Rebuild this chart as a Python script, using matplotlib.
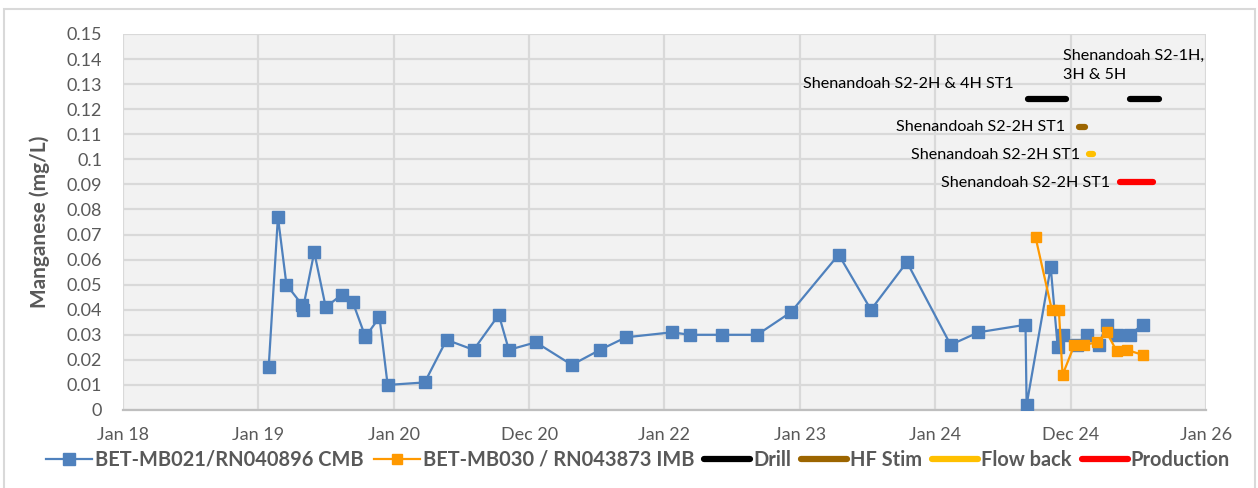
import matplotlib
matplotlib.use("Agg")
import matplotlib.pyplot as plt
import matplotlib.dates as mdates
from matplotlib.lines import Line2D
from matplotlib.patches import Rectangle
import numpy as np

plt.rcParams['font.family'] = ['Lato', 'DejaVu Sans']

# --- data -------------------------------------------------------------
cmb_dates = [
    "2019-01-29", "2019-02-23", "2019-03-18", "2019-04-29", "2019-05-01",
    "2019-06-01", "2019-07-02", "2019-08-14", "2019-09-13", "2019-10-15",
    "2019-10-16", "2019-11-24", "2019-12-16", "2020-03-25", "2020-05-23",
    "2020-08-04", "2020-10-11", "2020-11-07", "2021-01-19", "2021-04-26",
    "2021-07-11", "2021-09-19", "2022-01-21", "2022-03-11", "2022-06-05",
    "2022-09-08", "2022-12-08", "2023-04-16", "2023-07-12", "2023-10-17",
    "2024-02-12", "2024-04-27", "2024-09-01", "2024-09-04", "2024-11-08",
    "2024-11-27", "2024-12-10", "2025-01-17", "2025-02-13", "2025-03-17",
    "2025-04-08", "2025-05-05", "2025-06-09", "2025-07-14",
]
cmb_mn = [
    0.017, 0.077, 0.050, 0.042, 0.040,
    0.063, 0.041, 0.046, 0.043, 0.030,
    0.029, 0.037, 0.010, 0.011, 0.028,
    0.024, 0.038, 0.024, 0.027, 0.018,
    0.024, 0.029, 0.031, 0.030, 0.030,
    0.030, 0.039, 0.062, 0.040, 0.059,
    0.026, 0.031, 0.034, 0.002, 0.057,
    0.025, 0.030, 0.026, 0.030, 0.026,
    0.034, 0.030, 0.030, 0.034,
]

imb_dates = [
    "2024-09-28", "2024-11-11", "2024-11-30", "2024-12-10", "2025-01-11",
    "2025-02-07", "2025-03-14", "2025-04-08", "2025-05-05", "2025-06-01",
    "2025-07-14",
]
imb_mn = [0.069, 0.040, 0.040, 0.014, 0.026, 0.026, 0.027, 0.031, 0.0235,
          0.024, 0.022]

# activity bars: (start, end, level)
drill = [("2024-09-08", "2024-12-19", 0.124), ("2025-06-11", "2025-08-26", 0.124)]
hf_stim = [("2025-01-24", "2025-02-08", 0.113)]
flow_back = [("2025-02-19", "2025-03-03", 0.102)]
production = [("2025-05-13", "2025-08-10", 0.091)]

x_start = "2018-01-01"
n_ticks = 9
tick_labels = ["Jan 18", "Jan 19", "Jan 20", "Dec 20", "Jan 22",
               "Jan 23", "Jan 24", "Dec 24", "Jan 26"]
y_ticks = np.round(np.arange(0, 0.151, 0.01), 2)

# --- colours ----------------------------------------------------------
C_CMB = "#4F81BD"
C_IMB = "#FF9900"
C_DRILL = "#000000"
C_HF = "#9C6500"
C_FLOW = "#FFC000"
C_PROD = "#FF0000"
GREY_TXT = "#595959"
GRID = "#D9D9D9"

d = mdates.datestr2num

fig = plt.figure(figsize=(12.58, 4.88), dpi=100)
ax = fig.add_axes([123 / 1258, 1 - 410 / 488, (1206 - 123) / 1258, (410 - 34) / 488])
ax.set_facecolor("#F2F2F2")

# outer chart border
fig.patches.append(Rectangle((4 / 1258, -0.01), (1255 - 4) / 1258, 1 - 9 / 488 + 0.01,
                             transform=fig.transFigure, fill=False,
                             edgecolor="#D9D9D9", linewidth=1.5))

ax.plot(d(cmb_dates), cmb_mn, color=C_CMB, lw=1.6, marker="s", ms=8.5,
        mec=C_CMB, mfc=C_CMB, zorder=4)
ax.plot(d(imb_dates), imb_mn, color=C_IMB, lw=1.6, marker="s", ms=7,
        mec=C_IMB, mfc=C_IMB, zorder=5)

bar_kw = dict(lw=4.5, solid_capstyle="round", zorder=3)
for s, e, lvl in drill:
    ax.plot([d(s), d(e)], [lvl, lvl], color=C_DRILL, **bar_kw)
for s, e, lvl in hf_stim:
    ax.plot([d(s), d(e)], [lvl, lvl], color=C_HF, **bar_kw)
for s, e, lvl in flow_back:
    ax.plot([d(s), d(e)], [lvl, lvl], color=C_FLOW, **bar_kw)
for s, e, lvl in production:
    ax.plot([d(s), d(e)], [lvl, lvl], color=C_PROD, **bar_kw)

lab_kw = dict(textcoords="offset pixels", fontsize=11.6, color="#000000",
              va="center", zorder=6)
ax.annotate("Shenandoah S2-2H & 4H ST1", (d(drill[0][0]), drill[0][2]),
            xytext=(-14, 15), ha="right", **lab_kw)
ax.annotate("Shenandoah S2-1H,\n3H & 5H", (d(drill[1][0]), drill[1][2]),
            xytext=(-67, 34), ha="left", linespacing=1.5, **lab_kw)
ax.annotate("Shenandoah S2-2H ST1", (d(hf_stim[0][0]), hf_stim[0][2]),
            xytext=(-14, 0), ha="right", **lab_kw)
ax.annotate("Shenandoah S2-2H ST1", (d(flow_back[0][0]), flow_back[0][2]),
            xytext=(-9, -1), ha="right", **lab_kw)
ax.annotate("Shenandoah S2-2H ST1", (d(production[0][0]), production[0][2]),
            xytext=(-10, -1), ha="right", **lab_kw)

# axes
x0 = d(x_start)
xt = x0 + np.arange(n_ticks) * 365.25
ax.set_xlim(xt[0], xt[-1])
ax.set_xticks(xt)
ax.set_xticklabels(tick_labels)
ax.set_ylim(0, 0.15)
ax.set_yticks(y_ticks)
ax.set_yticklabels([f"{v:g}" for v in y_ticks])
ax.tick_params(axis="both", length=0, labelsize=13, colors=GREY_TXT)
ax.tick_params(axis="x", pad=12)
ax.tick_params(axis="y", pad=15)
ax.grid(True, color=GRID, lw=1.6)
ax.set_axisbelow(True)
for sp in ("top", "right", "left"):
    ax.spines[sp].set_visible(False)
ax.spines["bottom"].set_color("#BFBFBF")
ax.spines["bottom"].set_linewidth(1.6)
ax.set_ylabel("Manganese (mg/L)", fontsize=15, fontweight="bold",
              color=GREY_TXT, labelpad=12)

handles = [
    Line2D([], [], color=C_CMB, lw=1.6, marker="s", ms=8.5),
    Line2D([], [], color=C_IMB, lw=1.6, marker="s", ms=7),
    Line2D([], [], color=C_DRILL, lw=4.5, solid_capstyle="round"),
    Line2D([], [], color=C_HF, lw=4.5, solid_capstyle="round"),
    Line2D([], [], color=C_FLOW, lw=4.5, solid_capstyle="round"),
    Line2D([], [], color=C_PROD, lw=4.5, solid_capstyle="round"),
]
labels = ["BET-MB021/RN040896 CMB", "BET-MB030 / RN043873 IMB", "Drill",
          "HF Stim", "Flow back", "Production"]
leg = fig.legend(handles, labels, loc="center", bbox_to_anchor=(638 / 1258, 1 - 460 / 488),
                 ncol=6, frameon=False, handlelength=2.3, handletextpad=0.15,
                 columnspacing=0.5, prop={"size": 14.4, "weight": "bold"})
for t in leg.get_texts():
    t.set_color(GREY_TXT)

fig.savefig("out.png", dpi=100)
